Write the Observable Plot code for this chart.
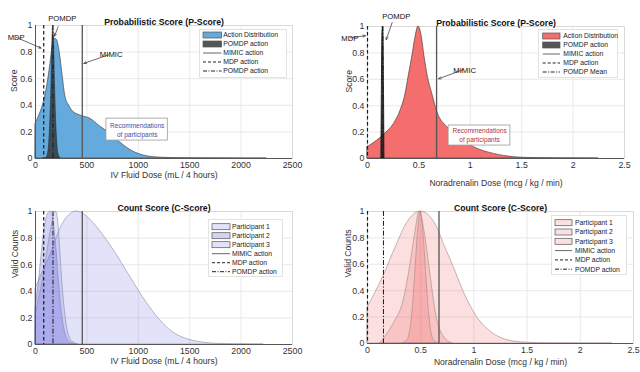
<!DOCTYPE html>
<html><head><meta charset="utf-8">
<script src="https://cdn.jsdelivr.net/npm/d3@7"></script>
<script src="https://cdn.jsdelivr.net/npm/@observablehq/plot@0.6"></script>
<style>
body{margin:0;background:#fff;}
#wrap{position:relative;width:640px;height:372px;overflow:hidden;font-family:"Liberation Sans",Arial,Helvetica,sans-serif;}
.panel{position:absolute;}
.legend{position:absolute;background:#fff;border:1px solid #e2e2e2;box-sizing:border-box;}
</style></head><body><div id="wrap"></div>
<script>
// ---------------- DATA ----------------
const fluidTicks = [0, 500, 1000, 1500, 2000, 2500];
const noraTicks = [0, 0.5, 1, 1.5, 2, 2.5];
const scoreTicks = [0, 0.2, 0.4, 0.6, 0.8, 1];

// P-Score, IV fluid: action distribution
const fluidDistX = [0, 50, 80, 115, 145, 172, 190, 210, 235, 260, 290, 325, 370, 450, 530, 630, 730, 825, 920, 1020, 1150, 1340, 1600, 2000, 2250];
const fluidDistY = [0.26, 0.35, 0.42, 0.55, 0.71, 0.87, 0.90, 0.89, 0.80, 0.65, 0.47, 0.40, 0.35, 0.32, 0.30, 0.24, 0.185, 0.12, 0.065, 0.03, 0.01, 0.003, 0.001, 0, 0];
// P-Score, IV fluid: POMDP action spike
const fluidPomdpX = [100, 120, 135, 145, 155, 163, 172, 181, 190, 200, 210, 225, 245];
const fluidPomdpY = [0, 0.03, 0.14, 0.3, 0.55, 0.85, 1, 0.85, 0.55, 0.3, 0.14, 0.03, 0];

// P-Score, noradrenalin: action distribution
const noraDistX = [0, 0.095, 0.16, 0.255, 0.32, 0.37, 0.40, 0.435, 0.467, 0.495, 0.523, 0.555, 0.587, 0.63, 0.68, 0.776, 0.906, 1.035, 1.23, 1.425, 1.62, 1.9, 2.25];
const noraDistY = [0.086, 0.136, 0.18, 0.26, 0.36, 0.49, 0.62, 0.77, 0.92, 1, 0.945, 0.77, 0.62, 0.49, 0.35, 0.237, 0.15, 0.086, 0.035, 0.01, 0.003, 0.001, 0];
const noraPomdpX = [0.135, 0.14, 0.145, 0.15, 0.155, 0.16, 0.165];
const noraPomdpY = [0, 0.55, 0.95, 1, 0.95, 0.55, 0];

// C-Score, IV fluid: participants
const fluidP1X = [0, 80, 145, 210, 275, 340, 400, 470, 600, 760, 920, 1085, 1215, 1340, 1440, 1600, 1800, 2000, 2220];
const fluidP1Y = [0.42, 0.56, 0.67, 0.81, 0.92, 0.98, 1, 0.98, 0.88, 0.71, 0.51, 0.31, 0.18, 0.09, 0.05, 0.018, 0.004, 0.001, 0];
const fluidP2X = [0, 30, 60, 90, 120, 150, 175, 200, 225, 250, 280, 310, 350, 400];
const fluidP2Y = [0.28, 0.45, 0.68, 0.88, 0.98, 1, 0.93, 0.75, 0.5, 0.28, 0.12, 0.04, 0.01, 0];
const fluidP3X = [0, 40, 80, 120, 160, 200, 220, 240, 260, 285, 310, 340, 380, 420];
const fluidP3Y = [0.22, 0.36, 0.52, 0.72, 0.9, 1, 0.93, 0.72, 0.48, 0.26, 0.12, 0.04, 0.01, 0];

// C-Score, noradrenalin: participants
const noraP1X = [0, 0.15, 0.276, 0.37, 0.5, 0.635, 0.73, 0.82, 0.91, 1.03, 1.18, 1.34, 1.5, 1.7, 2.0, 2.3];
const noraP1Y = [0.27, 0.51, 0.75, 0.91, 1, 0.91, 0.73, 0.56, 0.38, 0.2, 0.076, 0.02, 0.006, 0.001, 0, 0];
const noraP2X = [0.12, 0.245, 0.338, 0.40, 0.448, 0.49, 0.54, 0.59, 0.65, 0.714, 0.8];
const noraP2Y = [0, 0.15, 0.32, 0.58, 0.83, 1, 0.83, 0.53, 0.2, 0.055, 0];
const noraP3X = [0.33, 0.38, 0.42, 0.45, 0.475, 0.5, 0.525, 0.55, 0.58, 0.62, 0.67];
const noraP3Y = [0, 0.03, 0.22, 0.55, 0.85, 1, 0.85, 0.55, 0.22, 0.03, 0];

// reference actions
const fluidActions = {mdp: 80, pomdp: 170, mimic: 455};
const noraActions = {mdp: 0, pomdp: 0.15, mimic: 0.672};

// annotations (data units)
const fluidNotes = [
  {text: "POMDP", x: 260, y: 1.05, anchor: "middle"},
  {text: "MDP", x: -188, y: 0.91, anchor: "end"},
  {text: "MIMIC", x: 736, y: 0.78, anchor: "start"}
];
const fluidArrows = [
  {x1: 220, y1: 0.99, x2: 185, y2: 0.92},
  {x1: -185, y1: 0.91, x2: 55, y2: 0.83},
  {x1: 713, y1: 0.78, x2: 470, y2: 0.715}
];
const fluidBox = {x1: 690, x2: 1287, y1: 0.135, y2: 0.30, cx: 989, l1: 0.245, l2: 0.18};
const noraNotes = [
  {text: "POMDP", x: 0.28, y: 1.075, anchor: "middle"},
  {text: "MDP", x: -0.172, y: 0.91, anchor: "end"},
  {text: "MIMIC", x: 0.945, y: 0.667, anchor: "start"}
];
const noraArrows = [
  {x1: 0.24, y1: 1.03, x2: 0.182, y2: 0.9},
  {x1: -0.165, y1: 0.915, x2: -0.02, y2: 0.93},
  {x1: 0.929, y1: 0.672, x2: 0.691, y2: 0.604}
];
const noraBox = {x1: 0.789, x2: 1.39, y1: 0.098, y2: 0.25, cx: 1.09, l1: 0.212, l2: 0.142};
const boxLines = ["Recommendations", "of participants"];

// ---------------- STYLE ----------------
const FONT = '"Liberation Sans", Arial, Helvetica, sans-serif';
const BLUE = "#64aadd", RED = "#f46e6e", LAV = "#6060e0", PINK = "#f05050";
const DASH = "3.5,2.5", DASHDOT = "5,1.8,1.2,1.8";

const zip = (xs, ys) => xs.map((x, i) => ({x, y: ys[i]}));
const wrap = document.getElementById("wrap");

function area(xs, ys, fill, op, stroke, sw) {
  return Plot.areaY(zip(xs, ys), {x: "x", y: "y", fill, fillOpacity: op, stroke, strokeWidth: sw, curve: "monotone-x"});
}

function actionRules(a) {
  return [
    Plot.ruleX([a.mimic], {stroke: "#555", strokeWidth: 1.3}),
    Plot.ruleX([a.mdp], {stroke: "#1a1a1a", strokeWidth: 1.2, strokeDasharray: DASH}),
    Plot.ruleX([a.pomdp], {stroke: "#1a1a1a", strokeWidth: 1, strokeDasharray: DASHDOT})
  ];
}

function notes(list, arrows, box, boxColor) {
  const m = [
    Plot.arrow(arrows, {x1: "x1", y1: "y1", x2: "x2", y2: "y2", stroke: "#444", strokeWidth: 0.8, headLength: 5, headAngle: 45}),
    Plot.text(list, {x: "x", y: "y", text: "text", textAnchor: d => d.anchor, fontSize: 7.7, fill: "#111"})
  ];
  if (box) {
    m.push(Plot.rect([box], {x1: "x1", x2: "x2", y1: "y1", y2: "y2", fill: "white", stroke: "#999", strokeWidth: 0.8}));
    m.push(Plot.text(boxLines, {x: () => box.cx, y: (d, i) => i === 0 ? box.l1 : box.l2, text: d => d, fontSize: 6.5, fill: boxColor}));
  }
  return m;
}

function panel(o) {
  const p = Plot.plot({
    width: 320, height: 186,
    marginLeft: o.ml, marginRight: o.mr, marginTop: o.mt, marginBottom: o.mb,
    style: {fontFamily: FONT, fontSize: "8.8px", color: "#333", background: "none", overflow: "visible"},
    x: {domain: o.xDomain, ticks: o.xTicks, tickFormat: d => String(d), tickSize: 0, tickPadding: 3.5, label: null},
    y: {domain: [0, 1], ticks: scoreTicks, tickFormat: d => String(d), tickSize: 0, tickPadding: 3, label: null},
    marks: [
      Plot.ruleX(o.xTicks, {stroke: "#e3e3e3", strokeWidth: 0.8}),
      Plot.ruleY(scoreTicks, {stroke: "#e3e3e3", strokeWidth: 0.8}),
      Plot.frame({stroke: "#d5d5d5", strokeWidth: 0.8}),
      ...o.marks,
      Plot.ruleY([0], {stroke: "#555", strokeWidth: 1}),
      ...(o.leftAxis ? [Plot.ruleX([o.xDomain[0]], {stroke: "#555", strokeWidth: 1})] : []),
      ...o.rules,
      ...(o.notes || []),
      Plot.text([o.title], {frameAnchor: "top", dy: -7, fontWeight: "bold", fontSize: 8.7, fill: "#111"}),
      Plot.text([o.xLabel], {frameAnchor: "bottom", dy: o.xLabelDy, fontSize: 8.6, fill: "#333"}),
      Plot.text([o.yLabel], {frameAnchor: "left", dx: o.yLabelDx, rotate: -90, fontSize: 8.6, fill: "#333"})
    ]
  });
  const d = document.createElement("div");
  d.className = "panel";
  d.style.left = o.left + "px";
  d.style.top = o.top + "px";
  d.appendChild(p);
  wrap.appendChild(d);
}

function legend(o) {
  const d = document.createElement("div");
  d.className = "legend";
  Object.assign(d.style, {left: o.left + "px", top: o.top + "px", width: o.w + "px", height: o.h + "px"});
  let s = `<svg width="${o.w}" height="${o.h}" style="position:absolute;left:-1px;top:-1px;font-family:${FONT.replace(/"/g, "'")};font-size:6.8px">`;
  o.items.forEach((it, i) => {
    const y = o.y0 + i * o.step;
    if (it.fill) {
      s += `<rect x="${o.sx}" y="${y - 3}" width="${o.sw}" height="6" fill="${it.fill}" fill-opacity="${it.op}" stroke="#555" stroke-width="0.7"/>`;
    } else {
      s += `<line x1="${o.sx}" x2="${o.sx + o.sw}" y1="${y}" y2="${y}" stroke="${it.stroke}" stroke-width="1" ${it.dash ? `stroke-dasharray="${it.dash}"` : ""}/>`;
    }
    s += `<text x="${o.tx}" y="${y}" dy="0.35em" fill="#222">${it.label}</text>`;
  });
  s += "</svg>";
  d.innerHTML = s;
  wrap.appendChild(d);
}

// ---------------- PANELS ----------------
panel({
  left: 0, top: 0, ml: 35, mr: 28, mt: 25, mb: 28,
  xDomain: [0, 2500], xTicks: fluidTicks, leftAxis: true,
  title: "Probabilistic Score (P-Score)", xLabel: "IV Fluid Dose (mL / 4 hours)", yLabel: "Score",
  xLabelDy: 19.5, yLabelDx: -21,
  marks: [
    area(fluidDistX, fluidDistY, BLUE, 1, "#333", 0.6),
    area(fluidPomdpX, fluidPomdpY, "#333", 0.8, "#222", 0.5)
  ],
  rules: actionRules(fluidActions),
  notes: notes(fluidNotes, fluidArrows, fluidBox, "#4a4aa8")
});

panel({
  left: 320, top: 0, ml: 47, mr: 16, mt: 26, mb: 28,
  xDomain: [0, 2.5], xTicks: noraTicks, leftAxis: false,
  title: "Probabilistic Score (P-Score)", xLabel: "Noradrenalin Dose (mcg / kg / min)", yLabel: "Score",
  xLabelDy: 27, yLabelDx: -18,
  marks: [
    area(noraDistX, noraDistY, RED, 1, "#333", 0.6),
    area(noraPomdpX, noraPomdpY, "#222", 0.9, "#111", 0.8)
  ],
  rules: actionRules(noraActions),
  notes: notes(noraNotes, noraArrows, noraBox, "#b03036")
});

panel({
  left: 0, top: 186, ml: 35, mr: 28, mt: 25, mb: 28,
  xDomain: [0, 2500], xTicks: fluidTicks, leftAxis: true,
  title: "Count Score (C-Score)", xLabel: "IV Fluid Dose (mL / 4 hours)", yLabel: "Valid Counts",
  xLabelDy: 19, yLabelDx: -20,
  marks: [
    area(fluidP1X, fluidP1Y, LAV, 0.18, "#8a8aa8", 0.6),
    area(fluidP2X, fluidP2Y, LAV, 0.28, "#8a8aa8", 0.6),
    area(fluidP3X, fluidP3Y, LAV, 0.18, "#8a8aa8", 0.6)
  ],
  rules: actionRules(fluidActions)
});

panel({
  left: 320, top: 186, ml: 47, mr: 7, mt: 25, mb: 29,
  xDomain: [0, 2.5], xTicks: noraTicks, leftAxis: false,
  title: "Count Score (C-Score)", xLabel: "Noradrenalin Dose (mcg / kg / min)", yLabel: "Valid Counts",
  xLabelDy: 21.5, yLabelDx: -19,
  marks: [
    area(noraP1X, noraP1Y, PINK, 0.18, "#a08888", 0.6),
    area(noraP2X, noraP2Y, PINK, 0.18, "#a08888", 0.6),
    area(noraP3X, noraP3Y, PINK, 0.18, "#a08888", 0.6)
  ],
  rules: actionRules(noraActions)
});

// ---------------- LEGENDS ----------------
const lineItems = (last) => [
  {label: "MIMIC action", stroke: "#666"},
  {label: "MDP action", stroke: "#222", dash: "3,2"},
  {label: last, stroke: "#222", dash: "4,1.5,1,1.5"}
];
legend({left: 199, top: 29, w: 88, h: 49, y0: 6, step: 9, sx: 4, sw: 18.5, tx: 24.3,
  items: [{label: "Action Distribution", fill: BLUE, op: 1}, {label: "POMDP action", fill: "#555", op: 1}, ...lineItems("POMDP action")]});
legend({left: 538, top: 29, w: 80, h: 49, y0: 7, step: 9, sx: 4.7, sw: 17.3, tx: 25.3,
  items: [{label: "Action Distribution", fill: RED, op: 1}, {label: "POMDP action", fill: "#555", op: 1}, ...lineItems("POMDP Mean")]});
legend({left: 208, top: 219, w: 75, h: 58, y0: 7.7, step: 9, sx: 4, sw: 18, tx: 24,
  items: [{label: "Participant 1", fill: LAV, op: 0.18}, {label: "Participant 2", fill: LAV, op: 0.28}, {label: "Participant 3", fill: LAV, op: 0.18}, ...lineItems("POMDP action")]});
legend({left: 551, top: 215, w: 76, h: 60, y0: 7.7, step: 9.3, sx: 4, sw: 17, tx: 24,
  items: [{label: "Participant 1", fill: PINK, op: 0.18}, {label: "Participant 2", fill: PINK, op: 0.18}, {label: "Participant 3", fill: PINK, op: 0.18}, ...lineItems("POMDP action")]});
</script></body></html>
